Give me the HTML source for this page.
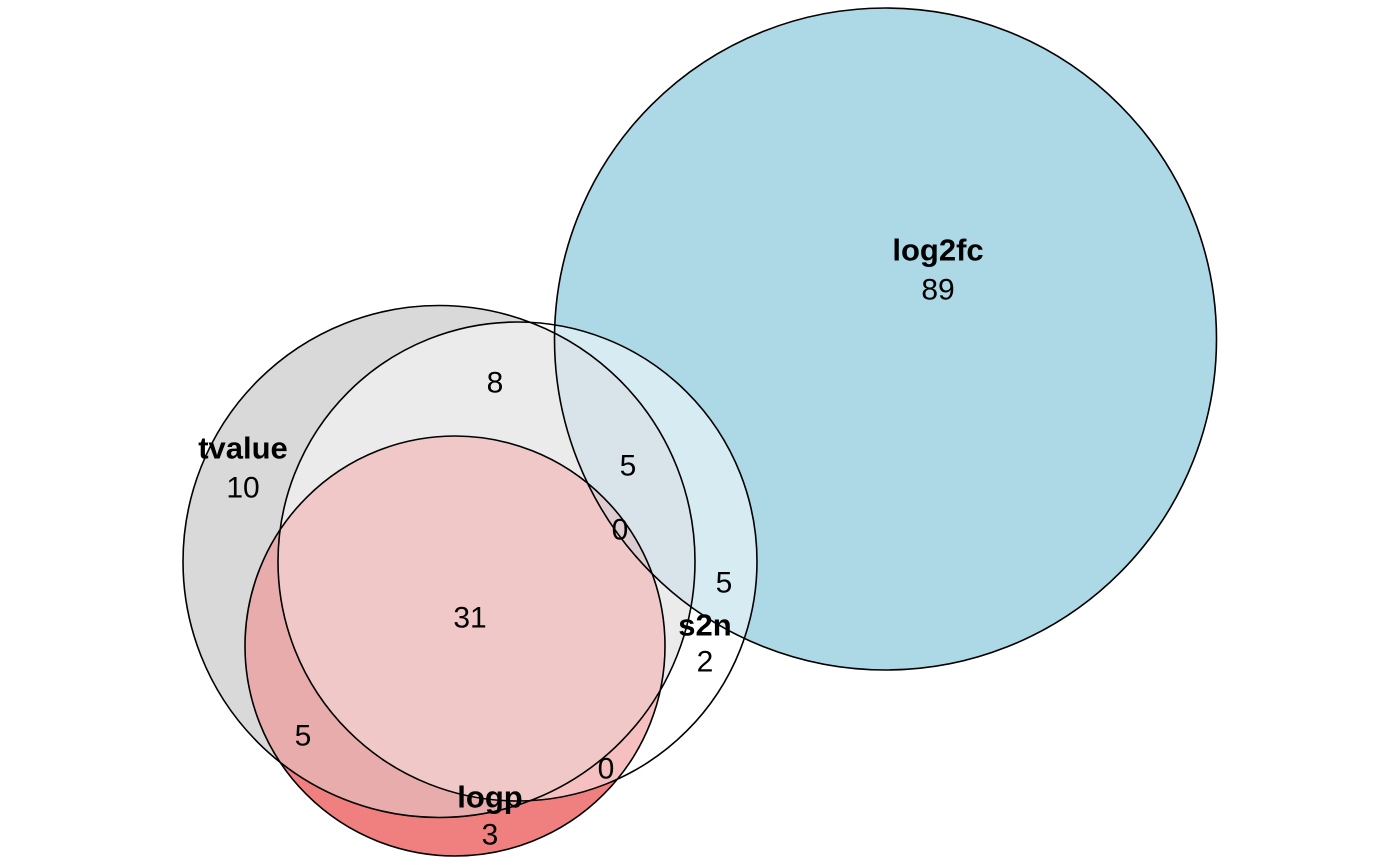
<!DOCTYPE html>
<html><head><meta charset="utf-8"><style>html,body{margin:0;padding:0;background:#fff}svg{display:block}text{font-family:"Liberation Sans",Arial,sans-serif;font-size:30px;text-anchor:middle;dominant-baseline:central;fill:#000}.b{font-weight:bold;font-size:31px}</style></head><body>
<svg width="1400" height="865" viewBox="0 0 1400 865" xmlns="http://www.w3.org/2000/svg">
<defs>
<clipPath id="F"><circle cx="885.5" cy="339" r="331"/></clipPath>
<clipPath id="T"><circle cx="439" cy="561.5" r="256"/></clipPath>
<clipPath id="S"><circle cx="517.5" cy="561.5" r="239.5"/></clipPath>
<clipPath id="P"><circle cx="455" cy="646" r="210"/></clipPath>
</defs>
<circle cx="517.5" cy="561.5" r="239.5" fill="#fff"/>
<circle cx="439" cy="561.5" r="256" fill="#d9d9d9"/>
<circle cx="455" cy="646" r="210" fill="#f08080"/>
<circle cx="885.5" cy="339" r="331" fill="#add8e6"/>
<g clip-path="url(#F)"><circle cx="517.5" cy="561.5" r="239.5" fill="#d6ebf2"/></g>
<g clip-path="url(#T)"><circle cx="517.5" cy="561.5" r="239.5" fill="#ebebeb"/></g>
<g clip-path="url(#T)"><circle cx="455" cy="646" r="210" fill="#e8acac"/></g>
<g clip-path="url(#S)"><circle cx="455" cy="646" r="210" fill="#f7c0c0"/></g>
<g clip-path="url(#T)"><g clip-path="url(#S)"><circle cx="455" cy="646" r="210" fill="#f1c8c8"/></g></g>
<g clip-path="url(#T)"><g clip-path="url(#S)"><circle cx="885.5" cy="339" r="331" fill="#d8e4ea"/></g></g>
<g clip-path="url(#S)"><g clip-path="url(#P)"><circle cx="885.5" cy="339" r="331" fill="#dfc8cc"/></g></g>
<g clip-path="url(#T)"><g clip-path="url(#S)"><g clip-path="url(#P)"><circle cx="885.5" cy="339" r="331" fill="#ddccd0"/></g></g></g>
<g fill="none" stroke="#000" stroke-width="1.6">
<circle cx="885.5" cy="339" r="331"/>
<circle cx="439" cy="561.5" r="256"/>
<circle cx="517.5" cy="561.5" r="239.5"/>
<circle cx="455" cy="646" r="210"/>
</g>
<text x="938" y="250" class="b">log2fc</text><text x="938" y="290">89</text>
<text x="243" y="448" class="b">tvalue</text><text x="243" y="488">10</text>
<text x="495" y="383">8</text>
<text x="628" y="466">5</text>
<text x="620" y="530">0</text>
<text x="724" y="583">5</text>
<text x="705" y="625" class="b">s2n</text><text x="705" y="662">2</text>
<text x="470" y="618">31</text>
<text x="303" y="736">5</text>
<text x="606" y="769">0</text>
<text x="490" y="797" class="b">logp</text><text x="490" y="835">3</text>
</svg>
</body></html>
